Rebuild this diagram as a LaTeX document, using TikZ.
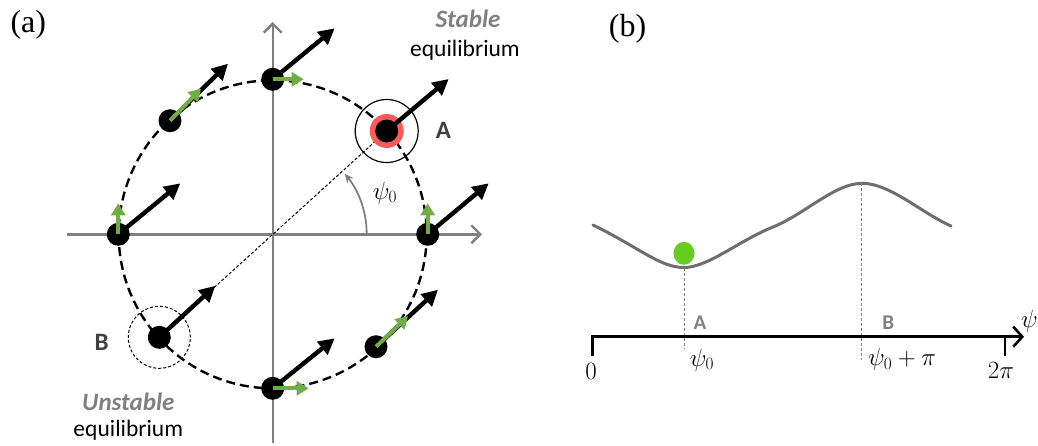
\documentclass[tikz,border=0pt]{standalone}
\usepackage{fontspec}
\setmainfont{Liberation Serif}
\newfontfamily\calib{Carlito}
\usetikzlibrary{arrows.meta,shapes.geometric}
\definecolor{axgray}{RGB}{128,128,128}
\definecolor{grn}{RGB}{112,173,71}
\definecolor{redring}{RGB}{255,90,90}
\definecolor{ballgreen}{RGB}{102,204,34}
\definecolor{curvegray}{RGB}{110,110,110}
\definecolor{lblgray}{RGB}{64,64,64}
\begin{document}
\begin{tikzpicture}[x=1pt,y=-1pt,
  dot/.style={circle,fill=black,inner sep=0pt,minimum size=23pt},
  blk/.style={line width=4.4pt,-{Triangle[length=16pt,width=16pt]}},
  grnarrow/.style={grn,line width=4pt,-{Triangle[length=12pt,width=14pt]}},
  axisa/.style={axgray,line width=2.4pt,-{Straight Barb[length=9pt,width=18pt,line width=2.4pt]}},
  eq/.style={font=\calib\fontsize{23.5}{26}\selectfont},
  eqhead/.style={font=\calib\bfseries\itshape\fontsize{25}{27}\selectfont,text=axgray},
  ptlbl/.style={font=\calib\bfseries\fontsize{25}{27}\selectfont,text=lblgray},
  ptlblb/.style={font=\calib\bfseries\fontsize{21}{24}\selectfont,text=axgray},
  mlbl/.style={font=\fontsize{24}{28}\selectfont},
  panel/.style={font=\fontsize{32}{34}\selectfont},
  vguide/.style={axgray,line width=0.9pt,dash pattern=on 3pt off 2pt}
]
\useasboundingbox (0,0) rectangle (1038,445);

% ---------- panel (a) ----------
\coordinate (O) at (272.7,234.3);
\draw[line width=2.4pt,dash pattern=on 9pt off 5pt] (O) circle[radius=154];
\draw[axisa] (67,234.3) -- (482,234.3);
\draw[axisa] (272.7,443) -- (272.7,22);

% positions
\coordinate (pA) at (386.7,131);
\coordinate (pB) at (159.3,337.3);
\draw[line width=1pt,dash pattern=on 3pt off 2pt] (pA) -- (pB);

\node[circle,draw=black,line width=1.2pt,minimum size=63pt,inner sep=0pt] (ringA) at (pA) {};
\node[circle,fill=redring,minimum size=34pt,inner sep=0pt] (redA) at (pA) {};
\node[circle,draw=black,line width=1pt,dash pattern=on 3pt off 2pt,minimum size=62pt,inner sep=0pt] (ringB) at (pB) {};

% angle arc
\draw[axgray,line width=1.8pt,-{Stealth[length=9pt,width=8pt]}] (O) ++(94,0) arc[start angle=0,end angle=-40,radius=94];
\node[mlbl] (psi0a) at (385,193) {$\psi_0$};

% dots
\node[dot] (dT) at (272.7,79.3) {};
\node[dot] (dUL) at (170,120.7) {};
\node[dot] (dL) at (118.3,234.3) {};
\node[dot] (dB) at (pB) {};
\node[dot] (dBot) at (272.7,388.3) {};
\node[dot] (dLR) at (376,346.7) {};
\node[dot] (dR) at (427.7,234.3) {};
\node[dot] (dA) at (pA) {};

% black arrows
\draw[blk] (dT.center) -- ++(62,-51);
\draw[blk] (dUL.center) -- ++(58,-57);
\draw[blk] (dL.center) -- ++(62,-51);
\draw[blk] (dB.center) -- ++(56,-51.5);
\draw[blk] (dBot.center) -- ++(62,-50);
\draw[blk] (dLR.center) -- ++(62,-57);
\draw[blk] (dR.center) -- ++(61,-51);
\draw[blk] (dA.center) -- ++(62,-52);

% green arrows
\draw[grnarrow] (dT.center) -- ++(31,0);
\draw[grnarrow] (dUL.center) -- ++(31,-32);
\draw[grnarrow] (dL.center) -- ++(0,-31);
\draw[grnarrow] (dR.center) -- ++(0,-31);
\draw[grnarrow] (dBot.center) -- ++(36,0);
\draw[grnarrow] (dLR.center) -- ++(32,-30.5);

% labels
\node[ptlbl] (lA) at (443.5,130) {A};
\node[ptlbl] (lB) at (101.7,342.3) {B};
\node[eqhead] (stab) at (468,19) {Stable};
\node[eq] (eqA) at (465,50) {equilibrium};
\node[eqhead] (unst) at (128.3,401.7) {Unstable};
\node[eq] (eqB) at (128.3,430.5) {equilibrium};
\node[panel] (pa) at (28.3,25) {(a)};

% ---------- panel (b) ----------
\node[panel] (pb) at (627.5,29) {(b)};
\draw[curvegray,line width=3pt,line cap=round]
  (593,225) .. controls (640,248) and (660,267.5) .. (684,267.5)
  .. controls (708,267.5) and (740,240) .. (773,227)
  .. controls (805,214) and (835,183.3) .. (862,183.3)
  .. controls (890,183.3) and (920,212) .. (951,226);
\coordinate (minA) at (684,267.5);
\coordinate (maxB) at (861.7,183.3);
\draw[vguide] (minA) -- (684,348.5);
\draw[vguide] (maxB) -- (861.7,360);
\node[ellipse,fill=ballgreen,minimum width=21pt,minimum height=23pt,inner sep=0pt,draw=none] (ball) at (684,253.3) {};

\coordinate (ax0) at (592.7,336.7);
\coordinate (axend) at (1024,336.7);
\draw[line width=2.6pt,-{Straight Barb[length=9pt,width=20pt,line width=2.6pt]}] (592.7,356) -- (ax0) -- (axend);
\draw[line width=2.6pt] (1005,336.7) -- (1005,356);

\node[ptlblb] (bA) at (700,322.7) {A};
\node[ptlblb] (bB) at (888.3,322.7) {B};
\node[mlbl] (psiax) at (1029.5,321.5) {$\psi$};
\node[font=\fontsize{25}{28}\selectfont] (z0) at (591,371) {$0$};
\node[mlbl] (psi0b) at (702,360) {$\psi_0$};
\node[mlbl] (psipi) at (902,359.3) {$\psi_0+\pi$};
\node[font=\fontsize{25}{28}\selectfont] (tpi) at (1001,370) {$2\pi$};
\end{tikzpicture}
\end{document}
